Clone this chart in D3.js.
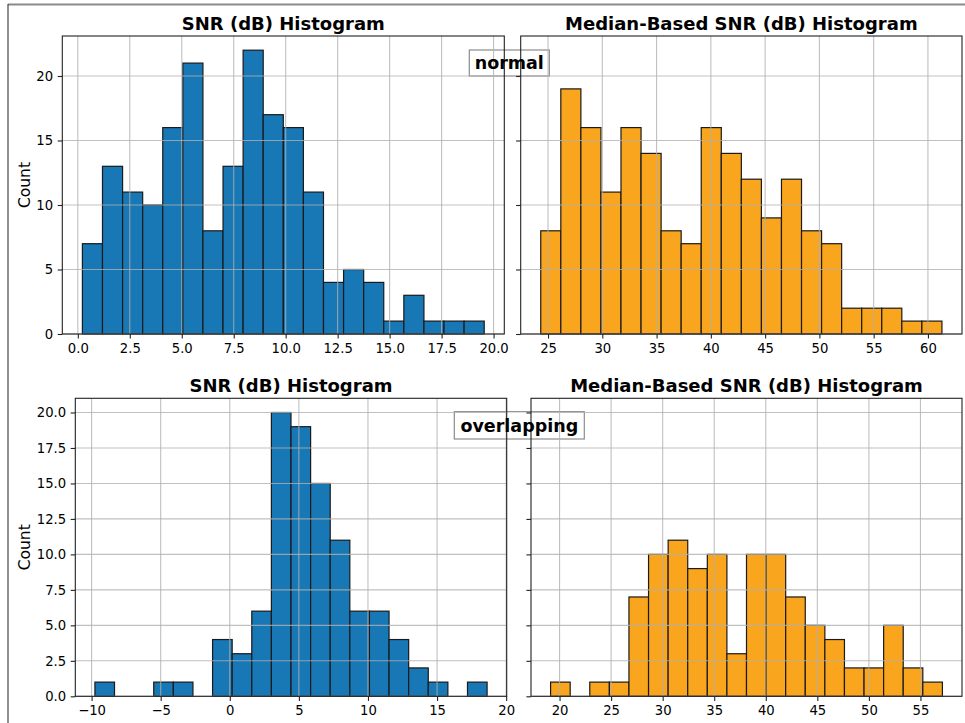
<!DOCTYPE html>
<html>
<head>
<meta charset="utf-8">
<script src="https://cdn.jsdelivr.net/npm/d3@7"></script>
<style>
  html, body { margin: 0; padding: 0; background: #ffffff; }
  svg { display: block; }
  text { font-family: "DejaVu Sans", sans-serif; fill: #000; }
</style>
</head>
<body>
<svg id="chart" width="965" height="723"></svg>
<script>
// ---------------- DATA ----------------
const titles = ["SNR (dB) Histogram", "Median-Based SNR (dB) Histogram"];
const rowLabels = ["normal", "overlapping"];
const yLabel = "Count";

// normal row
const normalSnrCounts = [7, 13, 11, 10, 16, 21, 8, 13, 22, 17, 16, 11, 4, 5, 4, 1, 3, 1, 1, 1];
const normalSnrRange = [0.22, 19.55];
const normalMedianCounts = [8, 19, 16, 11, 16, 14, 8, 7, 16, 14, 12, 9, 12, 8, 7, 2, 2, 2, 1, 1];
const normalMedianRange = [24.33, 61.29];

// overlapping row
const overlapSnrCounts = [1, 0, 0, 1, 1, 0, 4, 3, 6, 20, 19, 15, 11, 6, 6, 4, 2, 1, 0, 1];
const overlapSnrRange = [-9.76, 18.62];
const overlapMedianCounts = [1, 0, 1, 1, 7, 10, 11, 9, 10, 3, 10, 10, 7, 5, 4, 2, 2, 5, 2, 1];
const overlapMedianRange = [19.13, 57.13];

// tick labels
const xTicksNormalSnr = [0, 2.5, 5, 7.5, 10, 12.5, 15, 17.5, 20];
const xTicksNormalMedian = [25, 30, 35, 40, 45, 50, 55, 60];
const xTicksOverlapSnr = [-10, -5, 0, 5, 10, 15, 20];
const xTicksOverlapMedian = [20, 25, 30, 35, 40, 45, 50, 55];
const yTicksNormal = [0, 5, 10, 15, 20];
const yTicksOverlap = [0, 2.5, 5, 7.5, 10, 12.5, 15, 17.5, 20];

// ---------------- STYLE / LAYOUT ----------------
const BLUE = "#1877b5";
const ORANGE = "#f9a51e";
const tickLen = 4.6, tickPad = 4.6;

// shared y per row (sharey)
const yMaxNormal = d3.max([...normalSnrCounts, ...normalMedianCounts]) * 1.05;
const yMaxOverlap = d3.max([...overlapSnrCounts, ...overlapMedianCounts]) * 1.05;

const panels = [
  { counts: normalSnrCounts, range: normalSnrRange, xTicks: xTicksNormalSnr, xFmt: d3.format(".1f"),
    yTicks: yTicksNormal, yFmt: d3.format("d"), yMax: yMaxNormal, color: BLUE, title: titles[0],
    box: [62.3, 36, 504.3, 334], showY: true },
  { counts: normalMedianCounts, range: normalMedianRange, xTicks: xTicksNormalMedian, xFmt: d3.format("d"),
    yTicks: yTicksNormal, yFmt: d3.format("d"), yMax: yMaxNormal, color: ORANGE, title: titles[1],
    box: [520.7, 36, 962, 334], showY: false },
  { counts: overlapSnrCounts, range: overlapSnrRange, xTicks: xTicksOverlapSnr, xFmt: d3.format("d"),
    yTicks: yTicksOverlap, yFmt: d3.format(".1f"), yMax: yMaxOverlap, color: BLUE, title: titles[0],
    box: [75.3, 398.3, 506.7, 696.3], showY: true },
  { counts: overlapMedianCounts, range: overlapMedianRange, xTicks: xTicksOverlapMedian, xFmt: d3.format("d"),
    yTicks: yTicksOverlap, yFmt: d3.format(".1f"), yMax: yMaxOverlap, color: ORANGE, title: titles[1],
    box: [531, 398.3, 962, 696.3], showY: false }
];

const svg = d3.select("#chart");

// outer frame (partially visible)
svg.append("line").attr("x1", 8).attr("x2", 965).attr("y1", 4.5).attr("y2", 4.5)
  .attr("stroke", "#8a8a8a").attr("stroke-width", 2);
svg.append("line").attr("x1", 8).attr("x2", 8).attr("y1", 4).attr("y2", 723)
  .attr("stroke", "#444").attr("stroke-width", 1.2);

// row label boxes (drawn beneath axes lines)
const rowBoxes = [
  { text: rowLabels[0], x0: 469.3, x1: 549.3, y0: 50, y1: 76, base: 69 },
  { text: rowLabels[1], x0: 454.3, x1: 584.3, y0: 411.7, y1: 439, base: 431.5 }
];
rowBoxes.forEach(b => {
  svg.append("rect").attr("x", b.x0).attr("y", b.y0)
    .attr("width", b.x1 - b.x0).attr("height", b.y1 - b.y0)
    .attr("fill", "#fff").attr("stroke", "#8c8c8c").attr("stroke-width", 1.2);
});

panels.forEach(p => {
  const [L, T, R, B] = p.box;
  const n = p.counts.length;
  const bw = (p.range[1] - p.range[0]) / n;
  const edges = d3.range(n + 1).map(i => p.range[0] + i * bw);
  const margin = (p.range[1] - p.range[0]) * 0.05;
  const x = d3.scaleLinear().domain([p.range[0] - margin, p.range[1] + margin]).range([L, R]);
  const y = d3.scaleLinear().domain([0, p.yMax]).range([B, T]);

  const g = svg.append("g");

  // bars
  g.selectAll("rect.bar").data(p.counts.map((c, i) => ({ c, x0: edges[i], x1: edges[i + 1] })).filter(d => d.c > 0))
    .join("rect").attr("class", "bar")
    .attr("x", d => x(d.x0)).attr("width", d => x(d.x1) - x(d.x0))
    .attr("y", d => y(d.c)).attr("height", d => y(0) - y(d.c))
    .attr("fill", p.color).attr("stroke", "#1a1a1a").attr("stroke-width", 1.2);

  // grid (on top of bars)
  const grid = g.append("g").attr("stroke", "#b0b0b0").attr("stroke-width", 1.1).attr("stroke-opacity", 0.8);
  grid.selectAll("line.vx").data(p.xTicks).join("line")
    .attr("x1", d => x(d)).attr("x2", d => x(d)).attr("y1", T).attr("y2", B);
  grid.selectAll("line.hy").data(p.yTicks).join("line")
    .attr("x1", L).attr("x2", R).attr("y1", d => y(d)).attr("y2", d => y(d));

  // axes
  const xAxis = d3.axisBottom(x).tickValues(p.xTicks).tickFormat(p.xFmt)
    .tickSizeInner(tickLen).tickSizeOuter(0).tickPadding(tickPad);
  const ax = g.append("g").attr("transform", `translate(0,${B})`).call(xAxis);
  ax.select(".domain").remove();
  ax.selectAll("line").attr("stroke", "#222").attr("stroke-width", 1.1);
  ax.selectAll("text").attr("font-size", 13.2).attr("font-family", "DejaVu Sans").attr("fill", "#111");

  const yAxis = d3.axisLeft(y).tickValues(p.yTicks).tickFormat(p.showY ? p.yFmt : "")
    .tickSizeInner(tickLen).tickSizeOuter(0).tickPadding(tickPad);
  const ay = g.append("g").attr("transform", `translate(${L},0)`).call(yAxis);
  ay.select(".domain").remove();
  ay.selectAll("line").attr("stroke", "#222").attr("stroke-width", 1.1);
  ay.selectAll("text").attr("font-size", 13.2).attr("font-family", "DejaVu Sans").attr("fill", "#111");

  // spines
  g.append("rect").attr("x", L).attr("y", T).attr("width", R - L).attr("height", B - T)
    .attr("fill", "none").attr("stroke", "#222").attr("stroke-width", 1.1);

  // title
  g.append("text").attr("x", (L + R) / 2).attr("y", T - 6)
    .attr("text-anchor", "middle").attr("font-size", 18).attr("font-weight", "bold")
    .text(p.title);

  if (p.showY) {
    g.append("text").attr("transform", `translate(25,${(T + B) / 2}) rotate(-90)`)
      .attr("text-anchor", "middle").attr("dominant-baseline", "central")
      .attr("font-size", 15.5).text(yLabel);
  }
});

// row label text on top
rowBoxes.forEach(b => {
  svg.append("text").attr("x", (b.x0 + b.x1) / 2).attr("y", b.base)
    .attr("text-anchor", "middle").attr("font-size", 17.5).attr("font-weight", "bold")
    .text(b.text);
});
</script>
</body>
</html>
